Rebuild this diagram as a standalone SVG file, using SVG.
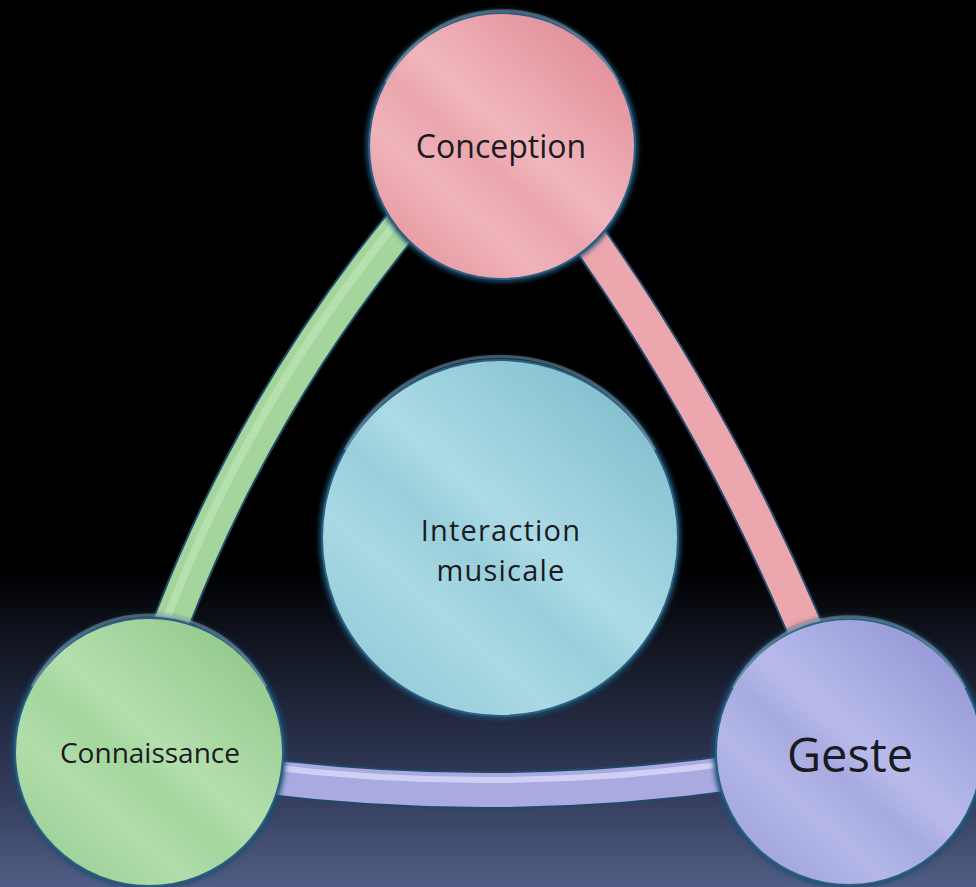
<svg xmlns="http://www.w3.org/2000/svg" width="976" height="887" viewBox="0 0 976 887">
  <defs>
    <linearGradient id="bg" x1="0" y1="0" x2="0" y2="1">
      <stop offset="0" stop-color="#000000"/>
      <stop offset="0.64" stop-color="#000000"/>
      <stop offset="0.77" stop-color="#1a2032"/>
      <stop offset="0.9" stop-color="#353e5e"/>
      <stop offset="1" stop-color="#505d84"/>
    </linearGradient>
    <linearGradient id="gPink" x1="0.85" y1="0.1" x2="0.15" y2="0.9">
      <stop offset="0" stop-color="#e2909a"/>
      <stop offset="0.45" stop-color="#f1b6bd"/>
      <stop offset="0.58" stop-color="#eaa5ad"/>
      <stop offset="0.75" stop-color="#f0b3ba"/>
      <stop offset="1" stop-color="#e79ba3"/>
    </linearGradient>
    <linearGradient id="gGreen" x1="0.85" y1="0.1" x2="0.15" y2="0.9">
      <stop offset="0" stop-color="#94ca8d"/>
      <stop offset="0.45" stop-color="#b4dfad"/>
      <stop offset="0.58" stop-color="#a4d69d"/>
      <stop offset="0.75" stop-color="#b1ddaa"/>
      <stop offset="1" stop-color="#9ed29a"/>
    </linearGradient>
    <linearGradient id="gPurple" x1="0.85" y1="0.1" x2="0.15" y2="0.9">
      <stop offset="0" stop-color="#9699d7"/>
      <stop offset="0.45" stop-color="#b8bbea"/>
      <stop offset="0.58" stop-color="#a7aadf"/>
      <stop offset="0.75" stop-color="#b4b7e8"/>
      <stop offset="1" stop-color="#a2a5dc"/>
    </linearGradient>
    <linearGradient id="gCyan" x1="0.85" y1="0.1" x2="0.15" y2="0.9">
      <stop offset="0" stop-color="#84c0cf"/>
      <stop offset="0.45" stop-color="#acdbe6"/>
      <stop offset="0.58" stop-color="#99cfdb"/>
      <stop offset="0.75" stop-color="#a9d9e4"/>
      <stop offset="1" stop-color="#96ccd9"/>
    </linearGradient>
    <filter id="soft" x="-20%" y="-20%" width="140%" height="140%">
      <feGaussianBlur stdDeviation="2.5"/>
    </filter>
  </defs>
  <style>
    .rim { fill: #1c4d6e; filter: url(#soft); }
    .node { stroke: #2a5f82; stroke-width: 2; }
    .hl { fill: none; stroke: #ffffff; stroke-opacity: 0.25; stroke-width: 3; }
    .lbl { font-family: "Open Sans", "Noto Sans", "DejaVu Sans", sans-serif; text-anchor: middle; fill: #1a1a22; }
    .edge { fill: none; stroke-linecap: butt; }
    .edgeRim { stroke: #1f4a6a; stroke-width: 38; }
  </style>

  <rect x="0" y="0" width="976" height="887" fill="url(#bg)"/>

  <g id="connectors">
    <path class="edge edgeRim" d="M 414 210 L 395 233 Q 256 406 175 613 L 164 641"/>
    <path class="edge" stroke="#a3d59d" stroke-width="34" d="M 414 210 L 395 233 Q 256 406 175 613 L 164 641"/>
    <path class="edge" stroke="#b6e1af" stroke-width="8" transform="translate(-5,-3)" d="M 414 210 L 395 233 Q 256 406 175 613 L 164 641"/>

    <path class="edge edgeRim" d="M 580 225 L 597 250 Q 717 423 800 617 L 812 645"/>
    <path class="edge" stroke="#eca6ad" stroke-width="34" d="M 580 225 L 597 250 Q 717 423 800 617 L 812 645"/>

    <path class="edge edgeRim" d="M 260 776 Q 500 806 740 772"/>
    <path class="edge" stroke="#aaa9e0" stroke-width="34" d="M 260 776 Q 500 806 740 772"/>
    <path class="edge" stroke="#d0d0f5" stroke-width="6" transform="translate(0,-10)" d="M 260 776 Q 500 806 740 772"/>
  </g>

  <g id="node-interaction">
    <circle class="rim" cx="500" cy="538" r="181"/>
    <circle class="node" cx="500" cy="538" r="178" fill="url(#gCyan)"/>
    <path class="hl" d="M 345 450 A 175 175 0 0 1 655 450"/>
    <text class="lbl" x="501" y="541" font-size="29" letter-spacing="1.2">Interaction</text>
    <text class="lbl" x="501" y="581" font-size="29" letter-spacing="1.2">musicale</text>
  </g>

  <g id="node-conception">
    <circle class="rim" cx="502" cy="146" r="136"/>
    <circle class="node" cx="502" cy="146" r="133" fill="url(#gPink)"/>
    <path class="hl" d="M 386 82 A 130 130 0 0 1 618 82"/>
    <text class="lbl" x="501" y="158" font-size="32" fill="#2a1416">Conception</text>
  </g>

  <g id="node-connaissance">
    <circle class="rim" cx="149" cy="752" r="137"/>
    <circle class="node" cx="149" cy="752" r="134" fill="url(#gGreen)"/>
    <path class="hl" d="M 32 687 A 131 131 0 0 1 266 687"/>
    <text class="lbl" x="150" y="763" font-size="28">Connaissance</text>
  </g>

  <g id="node-geste">
    <circle class="rim" cx="849" cy="752" r="136"/>
    <circle class="node" cx="849" cy="752" r="133" fill="url(#gPurple)"/>
    <path class="hl" d="M 733 688 A 130 130 0 0 1 965 688"/>
    <text class="lbl" x="850" y="772" font-size="47">Geste</text>
  </g>
</svg>
